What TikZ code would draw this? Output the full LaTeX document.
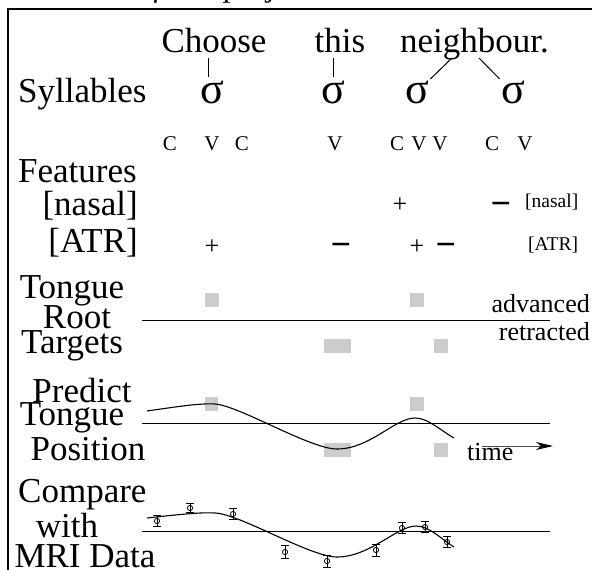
\documentclass[tikz,border=0pt]{standalone}
\usepackage{fontspec}
\setmainfont{Liberation Serif}
\usetikzlibrary{arrows.meta}
\begin{document}
\begin{tikzpicture}[x=1pt,y=-1pt,
  big/.style={font=\fontsize{35}{35}\selectfont, inner sep=0pt, anchor=base},
  bigL/.style={big, anchor=base west},
  bigR/.style={big, anchor=base east},
  sig/.style={font=\fontsize{44}{44}\selectfont, inner sep=0pt, anchor=base},
  mid/.style={font=\fontsize{26}{26}\selectfont, inner sep=0pt, anchor=base east},
  seg/.style={font=\fontsize{21}{21}\selectfont, inner sep=0pt, anchor=base},
  sm/.style={font=\fontsize{19.5}{19.5}\selectfont, inner sep=0pt, anchor=base west},
  plus/.style={font=\fontsize{26}{26}\selectfont, inner sep=0pt, anchor=base},
  minus/.style={font=\bfseries\fontsize{36}{36}\selectfont, inner sep=0pt, anchor=base},
  tgt/.style={fill=black!20, draw=none},
  ln/.style={line width=1pt},
  crv/.style={line width=1.1pt},
  errbar/.style={line width=0.8pt}
]
\useasboundingbox (0,0) rectangle (592,570);
% cut-off caption
\node[anchor=base west, inner sep=0pt, font=\itshape\fontsize{32}{32}\selectfont] (cap) at (-2,-3) {Schematic of this project};
% frame
\draw[line width=1.3pt] (592,9) -- (8,9) -- (8,572);

% words
\node[big] (choose) at (214,52) {Choose};
\node[big] (this) at (340,52) {this};
\node[bigL] (neigh) at (400,52) {neighbour.};
\node[bigL] (syll) at (18,102) {Syllables};
\node[sig] (s1) at (212,103) {σ};
\node[sig] (s2) at (333,103) {σ};
\node[sig] (s3) at (417,103) {σ};
\node[sig] (s4) at (513,103) {σ};
\coordinate (w1) at (208,58);
\coordinate (w2) at (333,58);
\coordinate (w3a) at (452,58);
\coordinate (w3b) at (479,58);
\draw[ln, shorten >=3pt] (w1) -- (w1 |- s1.north);
\draw[ln, shorten >=3pt] (w2) -- (s2.north);
\draw[ln, shorten >=2pt] (w3a) -- (s3.north east);
\draw[ln, shorten >=2pt] (w3b) -- (s4.north west);

% segments
\node[seg] (c1) at (170,150) {C};
\node[seg] (v1) at (212,150) {V};
\node[seg] (c2) at (242,150) {C};
\node[seg] (v2) at (335,150) {V};
\node[seg] (c3) at (397,150) {C};
\node[seg] (v3) at (419,150) {V};
\node[seg] (v4) at (440,150) {V};
\node[seg] (c4) at (492,150) {C};
\node[seg] (v5) at (525,150) {V};

% features
\node[bigL] (feat) at (18,182) {Features};
\node[bigR] (nasal) at (138,215) {[nasal]};
\node[bigR] (atr) at (138,252) {[ATR]};
\node[plus] (n1) at (400,212) {+};
\node[minus] (n2) at (501,215) {−};
\node[sm] (nasalR) at (525,207) {[nasal]};
\node[plus] (a1) at (212,254) {+};
\node[minus] (a2) at (341,256) {−};
\node[plus] (a3) at (417,254) {+};
\node[minus] (a4) at (446,256) {−};
\node[sm] (atrR) at (528,250) {[ATR]};

% tongue root targets
\node[big] (tr1) at (72,298) {Tongue};
\node[big] (tr2) at (77,328) {Root};
\node[big] (tr3) at (72,353) {Targets};
\coordinate (trL) at (142,320);
\coordinate (trR) at (550,320);
\draw[ln] (trL) -- (trR);
\node[mid] (adv) at (590,312) {advanced};
\node[mid] (ret) at (590,340) {retracted};
\fill[tgt] (205,293) rectangle (219,307);
\fill[tgt] (410,293) rectangle (424,307);
\fill[tgt] (324,339) rectangle (351,353);
\fill[tgt] (434,339) rectangle (448,353);

% predict
\node[big] (p1) at (82,402) {Predict};
\node[big] (p2) at (72,425) {Tongue};
\node[big] (p3) at (88,460) {Position};
\coordinate (pL) at (142,423);
\coordinate (pR) at (550,423);
\draw[ln] (pL) -- (pR);
\fill[tgt] (205,397) rectangle (218,411);
\fill[tgt] (410,397) rectangle (424,411);
\fill[tgt] (324,443) rectangle (351,457);
\fill[tgt] (434,443) rectangle (448,457);
\draw[crv] (147,411) .. controls (175,407) and (200,403) .. (215,404)
  .. controls (240,406) and (310,449) .. (337,449)
  .. controls (370,449) and (395,418) .. (415,418)
  .. controls (428,418) and (440,430) .. (454,438);
\node[anchor=base west, font=\fontsize{26}{26}\selectfont, inner sep=0pt] (time) at (467,460) {time};
\coordinate (tA) at (482,446);
\coordinate (tB) at (553,446);
\draw[line width=1pt, black!70, -{Stealth[length=17pt,width=8pt,inset=5pt,black]}] (tA) -- (tB);

% compare
\node[bigL] (m1) at (18,502) {Compare};
\node[big] (m2) at (67,537) {with};
\node[big] (m3) at (85,567) {MRI Data};
\coordinate (mL) at (142,531);
\coordinate (mR) at (550,531);
\draw[ln] (mL) -- (mR);
\draw[crv] (147,518) .. controls (175,515) and (200,512) .. (215,513)
  .. controls (240,514) and (310,557) .. (337,557)
  .. controls (370,557) and (397,526) .. (416,526)
  .. controls (429,526) and (440,538) .. (454,547);
\foreach \px/\py/\e in {157/521/5.5, 190/508/4.5, 233/514/5.5, 285/552/6.5,
                        327/561/6, 376/550/6, 402/528/5.5, 425/527/5.5, 447/542/5.5} {
  \draw[errbar] (\px,\py) circle (2.6);
  \draw[errbar] (\px-4,\py-\e) -- (\px+4,\py-\e) (\px,\py-\e) -- (\px,\py+\e) (\px-4,\py+\e) -- (\px+4,\py+\e);
}
\end{tikzpicture}
\end{document}
